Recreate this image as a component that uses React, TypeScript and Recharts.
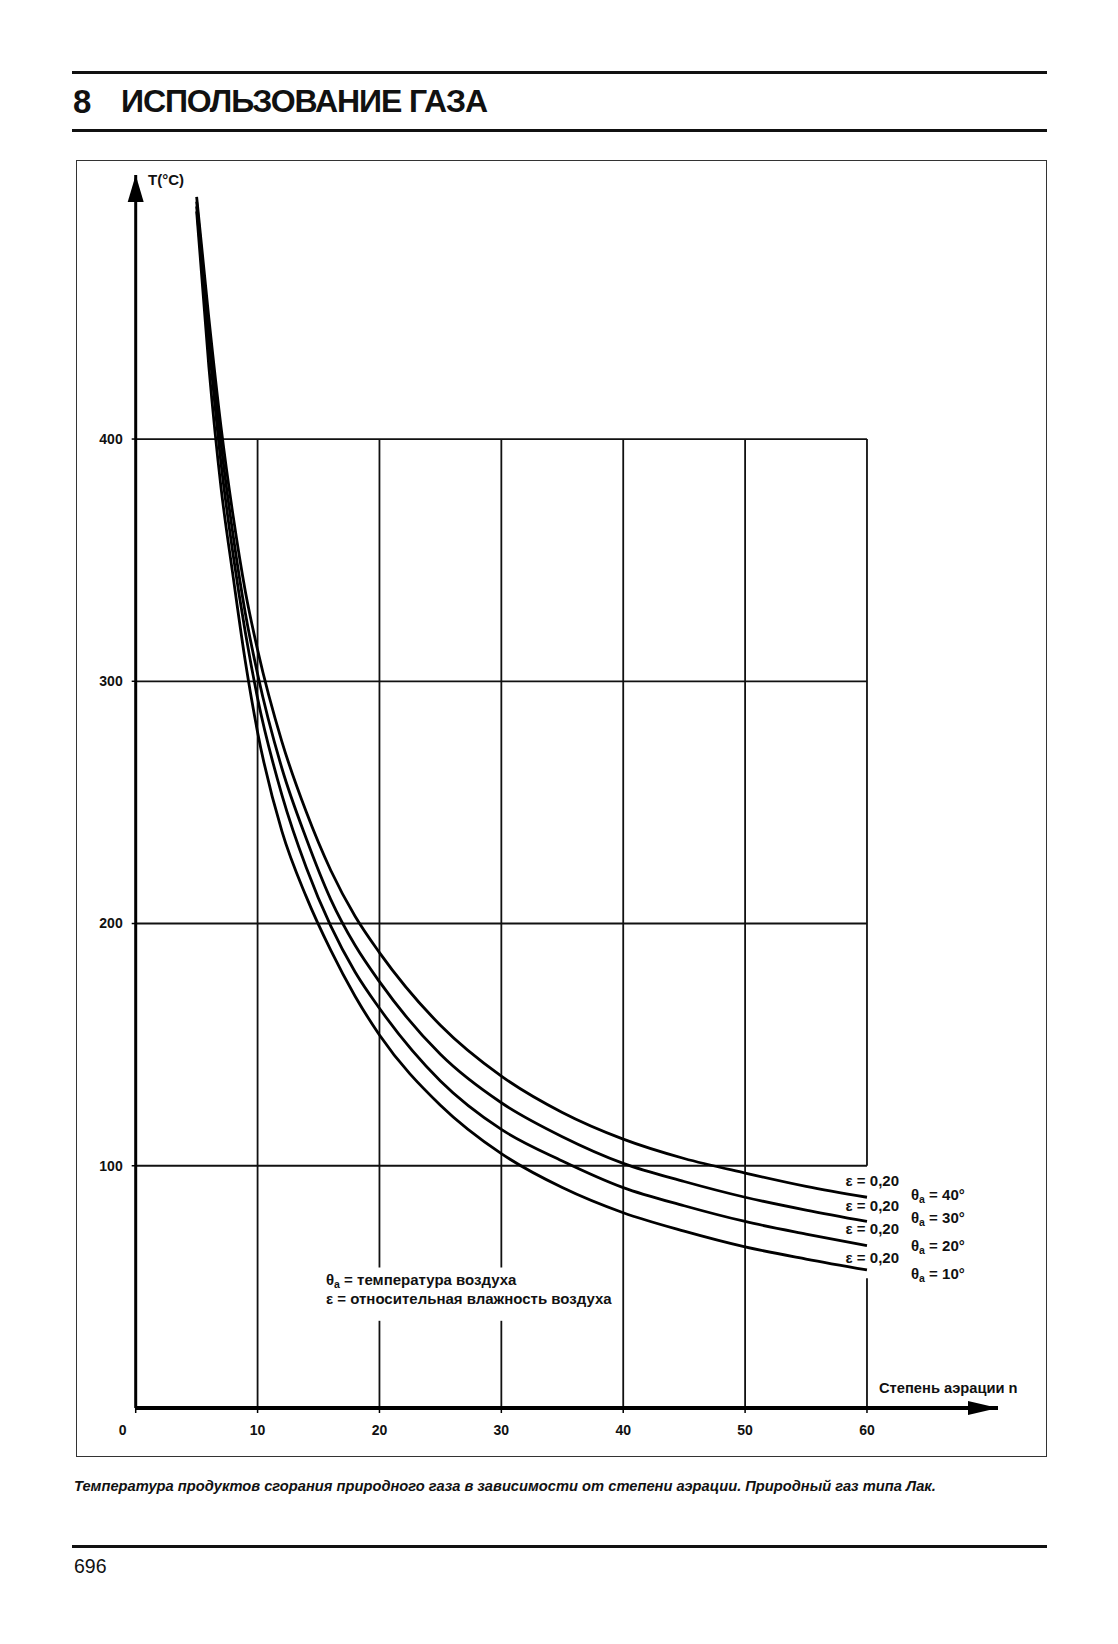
import { LineChart, Line, XAxis, YAxis, ReferenceLine, ReferenceDot } from 'recharts'

// степень аэрации n
const aeration = [5, 6, 7, 8, 9, 10, 12, 14, 16, 18, 20, 25, 30, 35, 40, 45, 50, 55, 60]
// T (°C) for each air temperature, ε = 0,20
const tAir10 = [494, 430, 380, 343, 308, 279, 238, 211, 189, 170, 154, 125, 105, 91, 80.6, 73, 66.5, 61.5, 57]
const tAir20 = [496, 440, 390, 352, 320, 293, 253, 223, 199, 180, 165, 135, 115, 102, 91, 83.5, 77, 71.8, 67]
const tAir30 = [498, 445, 398, 360, 328, 303, 264, 235, 210, 191, 176, 146, 126, 112, 101, 93.5, 87, 81.7, 77]
const tAir40 = [500, 450, 405, 368, 337, 313, 275, 246, 222, 203, 188, 158, 137, 122, 111, 103, 97, 91.5, 87]

const xTicks = [0, 10, 20, 30, 40, 50, 60]
const yTicks = [100, 200, 300, 400]
const airTemps = ['40°', '30°', '20°', '10°']
const humidity = '0,20'

const data = aeration.map((n, i) => ({
  n,
  t10: tAir10[i],
  t20: tAir20[i],
  t30: tAir30[i],
  t40: tAir40[i],
}))

const FONT = '"Liberation Sans", Arial, Helvetica, sans-serif'
const INK = '#111'

// vertical grid segments [from, to] in T units, broken where text sits
const vGrid: Record<number, [number, number][]> = {
  10: [[0, 400]],
  20: [[0, 36], [58, 400]],
  30: [[0, 36], [58, 400]],
  40: [[0, 400]],
  50: [[0, 400]],
  60: [[0, 53.6], [100, 400]],
}

function Txt({ x, y, size = 14, anchor = 'left', weight = 700, italic = false, children, spacing = 0 }: any) {
  const tx = anchor === 'right' ? '-100%' : anchor === 'center' ? '-50%' : '0'
  return (
    <div
      style={{
        position: 'absolute',
        left: x,
        top: y,
        transform: `translate(${tx}, -50%)`,
        fontFamily: FONT,
        fontSize: size,
        fontWeight: weight,
        fontStyle: italic ? 'italic' : 'normal',
        letterSpacing: spacing,
        whiteSpace: 'nowrap',
        lineHeight: 1,
        color: INK,
      }}
    >
      {children}
    </div>
  )
}

const Theta = () => (
  <>
    θ<span style={{ fontSize: '0.7em', position: 'relative', top: 3 }}>a</span>
  </>
)

function XTick({ x, y, payload }: any) {
  return (
    <text x={payload.value === 0 ? x - 13 : x} y={y} dy="0.35em" textAnchor="middle" fontFamily={FONT} fontSize={14} fontWeight={700} fill={INK}>
      {payload.value}
    </text>
  )
}

function YTick({ x, y, payload }: any) {
  return (
    <text x={x} y={y} dy="0.35em" textAnchor="end" fontFamily={FONT} fontSize={14} fontWeight={700} fill={INK}>
      {payload.value}
    </text>
  )
}

export default function App() {
  return (
    <div style={{ position: 'absolute', left: 0, top: 0, width: 1118, height: 1644, background: '#fff', overflow: 'hidden' }}>
      {/* header */}
      <div style={{ position: 'absolute', left: 72, top: 71, width: 975, height: 3, background: INK }} />
      <Txt x={73} y={101} size={33}>8</Txt>
      <Txt x={121} y={101} size={32} spacing={-1.1}>ИСПОЛЬЗОВАНИЕ ГАЗА</Txt>
      <div style={{ position: 'absolute', left: 72, top: 128.5, width: 975, height: 3, background: INK }} />

      {/* frame */}
      <div style={{ position: 'absolute', left: 75.5, top: 160, width: 971, height: 1297, border: '1px solid #333', boxSizing: 'border-box' }} />

      <div style={{ position: 'absolute', left: 0, top: 0 }}>
        <LineChart width={1118} height={1644} data={data} margin={{ top: 175, right: 120, bottom: 196, left: 75.7 }}>
          <XAxis
            dataKey="n"
            type="number"
            domain={[0, 70.75]}
            ticks={xTicks}
            allowDataOverflow
            height={40}
            axisLine={{ stroke: '#000', strokeWidth: 4 }}
            tickLine={{ stroke: '#000', strokeWidth: 1.5 }}
            tickSize={5}
            tickMargin={17}
            tick={<XTick />}
            interval={0}
          />
          <YAxis
            type="number"
            domain={[0, 509]}
            ticks={yTicks}
            allowDataOverflow
            width={60}
            axisLine={{ stroke: '#000', strokeWidth: 3 }}
            tickLine={{ stroke: '#000', strokeWidth: 1.5 }}
            tickSize={4}
            tickMargin={9}
            tick={<YTick />}
            interval={0}
          />
          {yTicks.map((v) => (
            <ReferenceLine
              key={'h' + v}
              segment={[{ x: 0, y: v }, { x: 60, y: v }]}
              stroke={INK}
              strokeWidth={1.8}
              ifOverflow="visible"
            />
          ))}
          {Object.entries(vGrid).flatMap(([x, segs]) =>
            segs.map(([a, b], i) => (
              <ReferenceLine
                key={'v' + x + i}
                segment={[{ x: Number(x), y: a }, { x: Number(x), y: b }]}
                stroke={INK}
                strokeWidth={1.8}
                ifOverflow="visible"
              />
            ))
          )}
          <Line dataKey="t10" type="monotone" stroke="#000" strokeWidth={2.8} dot={false} isAnimationActive={false} />
          <Line dataKey="t20" type="monotone" stroke="#000" strokeWidth={2.8} dot={false} isAnimationActive={false} />
          <Line dataKey="t30" type="monotone" stroke="#000" strokeWidth={2.8} dot={false} isAnimationActive={false} />
          <Line dataKey="t40" type="monotone" stroke="#000" strokeWidth={2.8} dot={false} isAnimationActive={false} />
          {/* axis arrowheads */}
          <ReferenceDot
            x={0}
            y={509}
            ifOverflow="visible"
            shape={(p: any) => (
              <polygon points={`${p.cx},${p.cy} ${p.cx - 8},${p.cy + 27} ${p.cx + 8},${p.cy + 27}`} fill="#000" />
            )}
          />
          <ReferenceDot
            x={70.75}
            y={0}
            ifOverflow="visible"
            shape={(p: any) => (
              <polygon points={`${p.cx},${p.cy} ${p.cx - 30},${p.cy - 7} ${p.cx - 30},${p.cy + 7}`} fill="#000" />
            )}
          />
        </LineChart>
      </div>

      {/* axis titles */}
      <Txt x={148} y={179} size={15}>T(°C)</Txt>
      <Txt x={879} y={1388} size={14.7}>Степень аэрации n</Txt>

      {/* curve labels */}
      {[1180, 1205, 1228, 1257].map((y, i) => (
        <Txt key={'e' + i} x={899} y={y} size={15} anchor="right">ε = {humidity}</Txt>
      ))}
      {[1194, 1217, 1245, 1273].map((y, i) => (
        <Txt key={'t' + i} x={911} y={y} size={15}>
          <Theta /> = {airTemps[i]}
        </Txt>
      ))}

      {/* legend */}
      <Txt x={326} y={1279} size={15}>
        <Theta /> = температура воздуха
      </Txt>
      <Txt x={326} y={1298} size={15}>ε = относительная влажность воздуха</Txt>

      {/* caption */}
      <Txt x={74} y={1486} size={14.7} italic>
        Температура продуктов сгорания природного газа в зависимости от степени аэрации. Природный газ типа Лак.
      </Txt>
      <div style={{ position: 'absolute', left: 72, top: 1544.5, width: 975, height: 3, background: INK }} />
      <Txt x={74} y={1567} size={19.5} weight={400}>696</Txt>
    </div>
  )
}
